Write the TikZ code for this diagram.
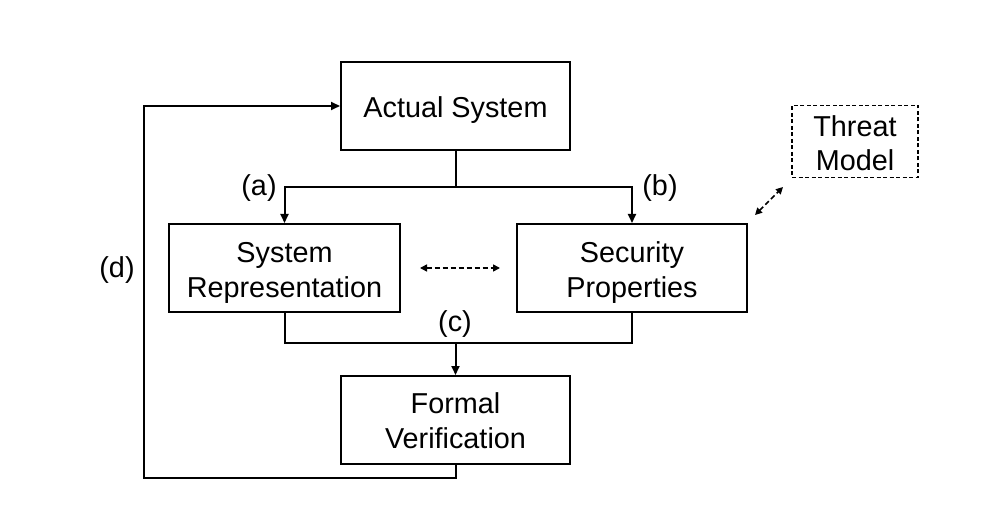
\documentclass[tikz,border=0pt]{standalone}
\usepackage{fontspec}
\setmainfont{Liberation Sans}
\usetikzlibrary{arrows.meta}
\begin{document}
\begin{tikzpicture}[x=1pt,y=-1pt,
  box/.style={draw,line width=2pt,inner sep=0pt},
  txt/.style={inner sep=0pt,align=center,font=\fontsize{28.8}{35}\selectfont},
  lbl/.style={font=\fontsize{28.8}{34}\selectfont,inner sep=0pt},
  conn/.style={line width=2pt},
  arr/.style={conn,-{Triangle[length=9pt,width=8pt]}},
  darr/.style={line width=1.6pt,dashed,dash pattern=on 5pt off 3pt,{Triangle[length=7pt,width=7pt]}-{Triangle[length=7pt,width=7pt]}}]
\useasboundingbox (0,0) rectangle (989,516);
\fill[white] (0,0) rectangle (989,516);
\node[box,minimum width=229pt,minimum height=88pt] (act) at (455.5,106) {};
\node[box,minimum width=231pt,minimum height=88pt] (sys) at (284.5,268) {};
\node[box,minimum width=230pt,minimum height=88pt] (sec) at (632,268) {};
\node[box,minimum width=229pt,minimum height=88pt] (fv) at (455.5,420) {};
\node[box,dashed,line width=1.6pt,dash pattern=on 4pt off 2.5pt,minimum width=126pt,minimum height=72pt] (thr) at (855,141.5) {};
\node[txt] (actT) at ([yshift=-4.5pt]act.center) {Actual System};
\node[txt] (sysT) at ([yshift=-4.5pt]sys.center) {System\\Representation};
\node[txt] (secT) at ([yshift=-4.5pt]sec.center) {Security\\Properties};
\node[txt] (fvT) at ([yshift=-1pt]fv.center) {Formal\\Verification};
\node[txt,font=\fontsize{28.8}{34}\selectfont] (thrT) at ([yshift=-1.5pt]thr.center) {Threat\\Model};
\coordinate (j1) at (455.5,187);
\draw[conn] (act.south) -- (j1);
\draw[arr] (j1) -| (sys.north);
\draw[arr] (j1) -| (sec.north);
\coordinate (j2) at (455.5,343);
\draw[conn] (sys.south) |- (j2) -| (sec.south);
\draw[arr] (j2) -- (fv.north);
\coordinate (dl) at (144,478);
\draw[arr] (fv.south) |- (dl) |- (act.west);
\coordinate (dA) at (420,268);
\coordinate (dB) at (500,268);
\draw[darr] (dA) -- (dB);
\coordinate (tA) at (755,215);
\coordinate (tB) at (783,187);
\draw[darr] (tA) -- (tB);
\node[lbl] (la) at (259,188) {(a)};
\node[lbl] (lb) at (660,188) {(b)};
\node[lbl] (lc) at (455,324) {(c)};
\node[lbl] (ld) at (117,270) {(d)};
\end{tikzpicture}
\end{document}
